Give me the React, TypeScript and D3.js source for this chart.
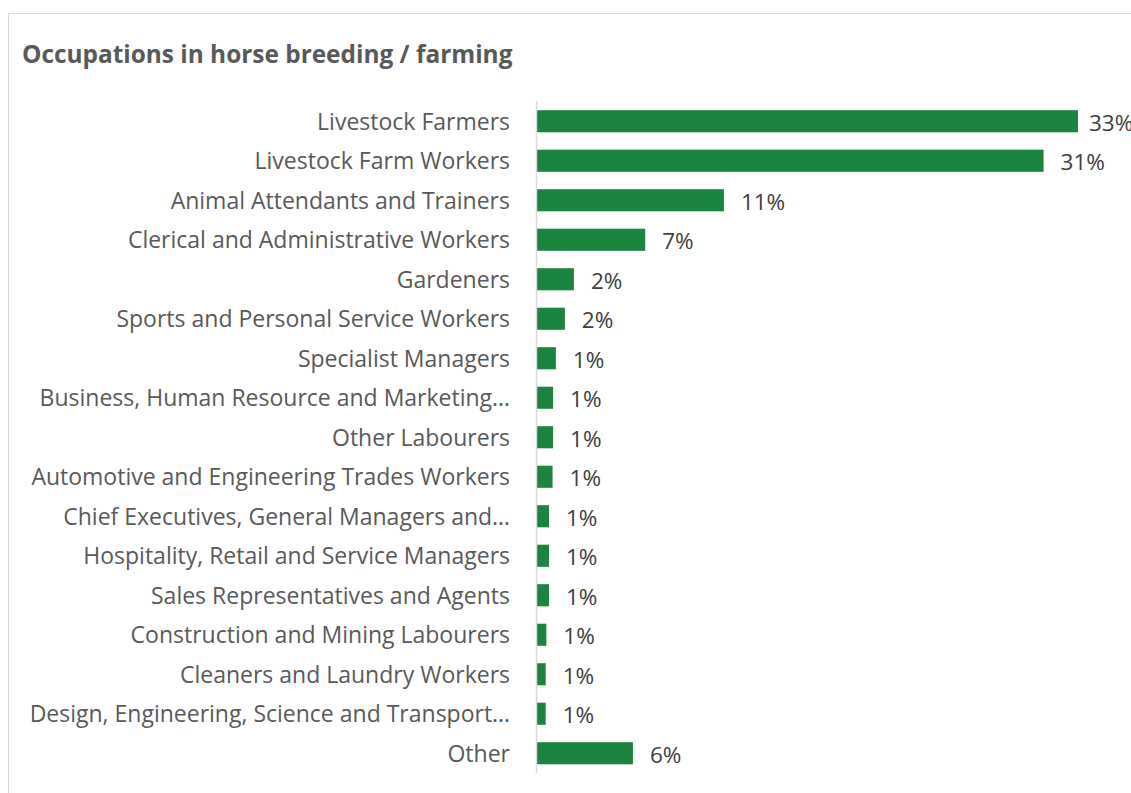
import React from "react";
import * as d3 from "d3";

const title = "Occupations in horse breeding / farming";

const categories = [
  "Livestock Farmers",
  "Livestock Farm Workers",
  "Animal Attendants and Trainers",
  "Clerical and Administrative Workers",
  "Gardeners",
  "Sports and Personal Service Workers",
  "Specialist Managers",
  "Business, Human Resource and Marketing…",
  "Other Labourers",
  "Automotive and Engineering Trades Workers",
  "Chief Executives, General Managers and…",
  "Hospitality, Retail and Service Managers",
  "Sales Representatives and Agents",
  "Construction and Mining Labourers",
  "Cleaners and Laundry Workers",
  "Design, Engineering, Science and Transport…",
  "Other",
];

const values = [
  33.0, 30.9, 11.4, 6.6, 2.25, 1.7, 1.15, 0.98, 0.98, 0.95, 0.73, 0.73, 0.73,
  0.57, 0.53, 0.53, 5.85,
];

const W = 1131;
const H = 793;
const FONT = "'Open Sans', sans-serif";

export default function App() {
  const x = d3.scaleLinear().domain([0, 33]).range([537, 1078]);
  const y = d3
    .scaleBand<string>()
    .domain(categories)
    .range([101.5, 773])
    .paddingInner(0.44)
    .paddingOuter(0.22);
  const bh = y.bandwidth();

  return (
    <svg
      width={W}
      height={H}
      style={{ position: "absolute", left: 0, top: 0, background: "#fff" }}
    >
      <rect
        x={8.5}
        y={13.5}
        width={1300}
        height={1000}
        fill="#fff"
        stroke="#d9d9d9"
        strokeWidth={1}
      />
      <text
        x={22}
        y={63}
        fontFamily={FONT}
        fontWeight={700}
        fontSize={24.4}
        fill="#595959"
      >
        {title}
      </text>
      {categories.map((c, i) => {
        const yc = (y(c) as number) + bh / 2;
        const end = x(values[i]);
        const lx = Math.min(end + 17, 1089);
        return (
          <g key={c}>
            <rect
              x={x(0)}
              y={y(c)}
              width={end - x(0)}
              height={bh}
              fill="#1b843f"
            />
            <text
              x={510}
              y={yc}
              dy="0.36em"
              textAnchor="end"
              fontFamily={FONT}
              fontSize={23}
              fill="#595959"
            >
              {c}
            </text>
            <text
              x={lx}
              y={yc}
              dy="0.42em"
              fontFamily={FONT}
              fontSize={22.5}
              fill="#404040"
            >
              {`${Math.round(values[i])}%`}
            </text>
          </g>
        );
      })}
      <line
        x1={536.5}
        x2={536.5}
        y1={101}
        y2={773}
        stroke="#d9d9d9"
        strokeWidth={1.5}
      />
    </svg>
  );
}
